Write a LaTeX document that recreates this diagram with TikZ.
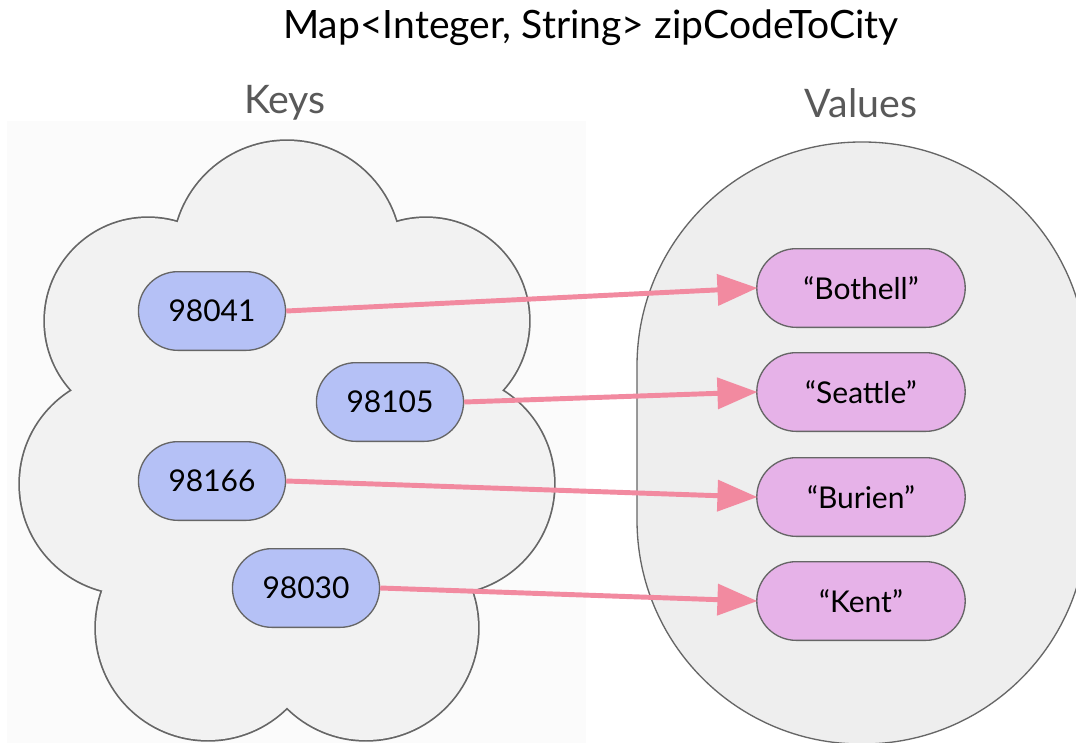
\documentclass[tikz,border=0pt]{standalone}
\usepackage{fontspec}
\setmainfont{Lato}
\usetikzlibrary{arrows.meta,shapes.misc}
\definecolor{keyfill}{HTML}{B5C1F6}
\definecolor{valfill}{HTML}{E6B2E8}
\definecolor{edgegray}{HTML}{666666}
\definecolor{cloudfill}{HTML}{F2F2F2}
\definecolor{valbg}{HTML}{EEEEEE}
\definecolor{pinkarrow}{HTML}{F28AA0}
\definecolor{labelgray}{HTML}{595959}
\definecolor{bgpanel}{HTML}{FBFBFB}
\tikzset{
  pill/.style={rounded rectangle, draw=edgegray, line width=1pt, minimum height=59pt, font=\fontsize{22.5}{27}\selectfont, text=black},
  keypill/.style={pill, fill=keyfill, minimum width=117pt},
  valpill/.style={pill, fill=valfill, minimum width=163pt},
  maparrow/.style={draw=pinkarrow, line width=3.7pt, -{Triangle[length=30pt, width=23pt]}, shorten >=-1pt},
  heading/.style={font=\fontsize{29.5}{34}\selectfont, text=labelgray}
}
\begin{document}
\begin{tikzpicture}[x=0.75pt,y=-0.75pt]
\useasboundingbox (0,0) rectangle (1076,743);
\fill[white] (0,0) rectangle (1076,743);
% faint panel
\fill[bgpanel] (7,121) rectangle (586,743);
% title and headings
\node[font=\fontsize{29.3}{34}\selectfont, text=black] (title) at (591,28) {Map<Integer, String> zipCodeToCity};
\node[heading] (keyshead) at (285,103) {Keys};
\node[heading] (valueshead) at (861,103) {Values};
% cloud: stroke lobes with double width, then fill them
\foreach \cx/\cy/\r in {287/255/114, 148/321/103, 426/321/103, 130/484/110, 444/484/110, 208/628/112, 366/628/112}{
  \draw[edgegray, line width=2.6pt] (\cx,\cy) circle[radius=\r];
}
\foreach \cx/\cy/\r in {287/255/114, 148/321/103, 426/321/103, 130/484/110, 444/484/110, 208/628/112, 366/628/112}{
  \fill[cloudfill] (\cx,\cy) circle[radius=\r];
}
\fill[cloudfill] (287,450) circle[radius=170];
% values container
\begin{scope}
\clip (0,0) rectangle (1076,743);
\draw[draw=edgegray, fill=valbg, line width=1pt, rounded corners=168pt] (637,142) rectangle (1087,744);
\end{scope}
% key nodes
\node[keypill] (k1) at (212,311) {98041};
\node[keypill] (k2) at (390,402) {98105};
\node[keypill] (k3) at (212,481) {98166};
\node[keypill] (k4) at (306,588) {98030};
% value nodes
\node[valpill] (v1) at (861,288) {“Bothell”};
\node[valpill] (v2) at (861,392) {“Seattle”};
\node[valpill] (v3) at (861,497) {“Burien”};
\node[valpill] (v4) at (861,601) {“Kent”};
% arrows
\draw[maparrow] (k1.east) -- (v1.west);
\draw[maparrow] (k2.east) -- (v2.west);
\draw[maparrow] (k3.east) -- (v3.west);
\draw[maparrow] (k4.east) -- (v4.west);
\end{tikzpicture}
\end{document}
